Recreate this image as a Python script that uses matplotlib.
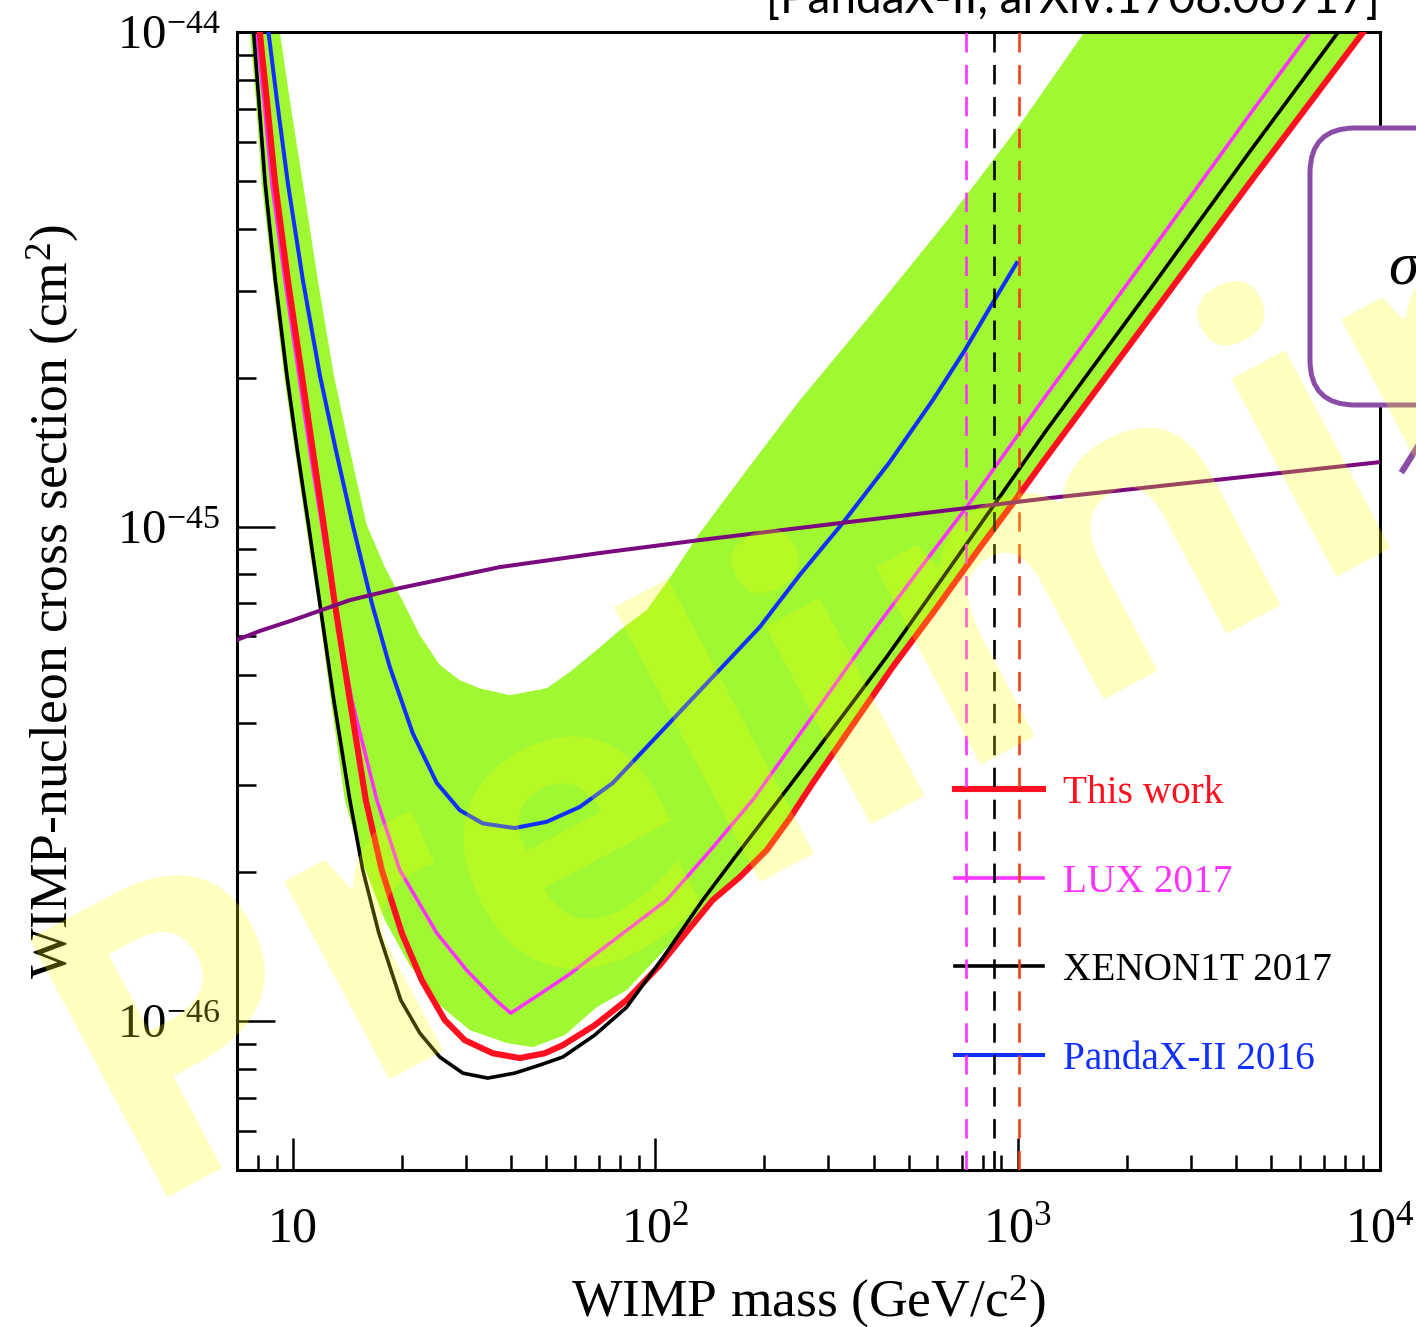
import matplotlib
matplotlib.use('Agg')
import matplotlib.pyplot as plt
from matplotlib.patches import FancyBboxPatch
from matplotlib.lines import Line2D
from matplotlib.ticker import FixedLocator, FixedFormatter, NullFormatter, LogLocator

plt.rcParams['font.family'] = ['Liberation Serif', 'DejaVu Serif']
plt.rcParams['mathtext.fontset'] = 'custom'
plt.rcParams['mathtext.rm'] = 'Liberation Serif'
plt.rcParams['mathtext.it'] = 'Liberation Serif:italic'
plt.rcParams['mathtext.bf'] = 'Liberation Serif:bold'
plt.rcParams['lines.scale_dashes'] = False

# ---------------- data ----------------
this_work_mass = [8.09, 8.46, 8.92, 9.67, 10.57, 11.33, 12.15, 13.03, 14.34, 15.87, 17.57, 19.95,
                  22.65, 26.22, 29.77, 35.57, 42.23, 49.49, 55.50, 68.00, 83.31, 102.8, 124.3,
                  143.9, 170.9, 202.9, 234.8, 271.8, 350.3, 451.7, 582.5, 785.2, 1012, 1201,
                  2312, 4364, 8948]
this_work_xsec = [1.0e-44, 7.29e-45, 4.95e-45, 3.15e-45, 2.025e-45, 1.428e-45, 1.007e-45,
                  7.00e-46, 4.46e-46, 2.80e-46, 2.02e-46, 1.507e-46, 1.21e-46, 1.005e-46,
                  9.15e-47, 8.61e-47, 8.42e-47, 8.61e-47, 8.94e-47, 9.81e-47, 1.103e-46,
                  1.297e-46, 1.542e-46, 1.757e-46, 1.955e-46, 2.217e-46, 2.57e-46, 3.03e-46,
                  3.97e-46, 5.20e-46, 6.68e-46, 9.05e-46, 1.163e-45, 1.382e-45, 2.64e-45,
                  4.95e-45, 9.95e-45]

lux_mass = [7.94, 8.30, 8.73, 9.49, 10.37, 11.12, 12.00, 12.95, 14.52, 17.02, 19.70, 24.92,
            30.15, 36.25, 39.87, 47.95, 58.02, 68.87, 84.92, 107.4, 141.2, 185.6, 266.6, 382.9,
            526.0, 722.8, 1171, 2312, 4364, 6391]
lux_xsec = [1.0e-44, 7.29e-45, 4.95e-45, 3.15e-45, 2.025e-45, 1.428e-45, 1.007e-45, 7.00e-46,
            4.46e-46, 2.80e-46, 2.02e-46, 1.507e-46, 1.267e-46, 1.103e-46, 1.038e-46, 1.134e-46,
            1.245e-46, 1.372e-46, 1.542e-46, 1.757e-46, 2.207e-46, 2.80e-46, 4.06e-46, 5.90e-46,
            8.05e-46, 1.095e-45, 1.80e-45, 3.57e-45, 6.80e-45, 9.95e-45]

xenon_mass = [7.78, 8.04, 8.37, 8.93, 9.61, 10.27, 11.03, 11.85, 12.95, 14.34, 15.57, 17.24,
              19.82, 22.37, 25.40, 29.40, 34.45, 40.91, 47.95, 55.50, 68.00, 83.31, 106.1,
              135.1, 163.5, 206.8, 261.5, 337.2, 434.8, 608.9, 852.3, 1201, 2312, 4364, 7632]
xenon_xsec = [1.0e-44, 7.29e-45, 4.95e-45, 3.15e-45, 2.025e-45, 1.428e-45, 1.007e-45, 7.00e-46,
              4.46e-46, 2.80e-46, 2.02e-46, 1.507e-46, 1.103e-46, 9.46e-47, 8.46e-47, 7.85e-47,
              7.67e-47, 7.85e-47, 8.15e-47, 8.46e-47, 9.37e-47, 1.067e-46, 1.36e-46, 1.757e-46,
              2.117e-46, 2.65e-46, 3.32e-46, 4.25e-46, 5.45e-46, 7.72e-46, 1.095e-45, 1.567e-45,
              3.01e-45, 5.72e-45, 9.95e-45]

pandax16_mass = [8.55, 9.02, 9.67, 10.64, 11.85, 13.12, 14.61, 16.49, 18.49, 21.39, 24.92, 28.84,
                 33.38, 40.91, 50.12, 61.82, 76.24, 102.8, 141.2, 194.0, 250.2, 328.7, 443.2,
                 582.5, 713.8, 852.3, 993.1]
pandax16_xsec = [1.0e-44, 7.29e-45, 4.95e-45, 3.15e-45, 2.025e-45, 1.428e-45, 1.007e-45,
                 7.00e-46, 5.20e-46, 3.82e-46, 3.03e-46, 2.67e-46, 2.51e-46, 2.457e-46, 2.53e-46,
                 2.71e-46, 3.03e-46, 3.82e-46, 4.89e-46, 6.26e-46, 7.98e-46, 1.016e-45, 1.35e-45,
                 1.80e-45, 2.27e-45, 2.83e-45, 3.41e-45]

band_upper_mass = [9.19, 9.79, 10.64, 11.70, 12.95, 14.34, 15.97, 17.91, 20.21, 22.37, 25.40,
                   28.84, 32.74, 39.63, 50.12, 58.02, 68.87, 79.69, 94.62, 110.9, 132.5, 182.1,
                   250.2, 402.9, 648.9, 1012, 1530]
band_upper_xsec = [1.0e-44, 7.29e-45, 4.95e-45, 3.15e-45, 2.025e-45, 1.428e-45, 1.007e-45,
                   8.28e-46, 7.00e-46, 6.03e-46, 5.25e-46, 4.89e-46, 4.71e-46, 4.56e-46, 4.71e-46,
                   5.08e-46, 5.63e-46, 6.17e-46, 6.78e-46, 7.98e-46, 9.70e-46, 1.325e-45,
                   1.80e-45, 2.74e-45, 4.22e-45, 6.48e-45, 1.0e-44]
band_lower_mass = [7.60, 7.89, 8.19, 8.79, 9.43, 10.11, 10.84, 11.70, 12.71, 13.89, 15.47, 17.91,
                   20.99, 25.40, 30.73, 38.87, 45.87, 56.21, 68.87, 83.31, 102.8, 143.9, 202.9,
                   271.8, 451.7, 582.5, 1201, 2312, 4364, 8948]
band_lower_xsec = [1.0e-44, 7.29e-45, 4.95e-45, 3.15e-45, 2.025e-45, 1.428e-45, 1.007e-45,
                   7.00e-46, 4.46e-46, 2.80e-46, 2.117e-46, 1.60e-46, 1.297e-46, 1.077e-46,
                   9.59e-47, 9.03e-47, 8.86e-47, 9.37e-47, 1.067e-46, 1.155e-46, 1.36e-46,
                   1.757e-46, 2.217e-46, 3.03e-46, 5.20e-46, 6.68e-46, 1.382e-45, 2.64e-45,
                   4.95e-45, 9.95e-45]

theory_mass = [7.0, 8.09, 10.0, 14.34, 19.7, 37.2, 70.2, 132.5, 322, 723, 1224, 10000]
theory_xsec = [5.90e-46, 6.15e-46, 6.47e-46, 7.10e-46, 7.51e-46, 8.28e-46, 8.84e-46, 9.39e-46,
               1.016e-45, 1.090e-45, 1.142e-45, 1.35e-45]

crossing_masses = [720, 860, 1010]
crossing_colors = ['#ff33ff', '#000000', '#f2401c']

legend_labels = ['This work', 'LUX 2017', 'XENON1T 2017', 'PandaX-II 2016']
x_tick_values = [10, 100, 1000, 10000]
x_tick_labels = ['10', '$10^2$', '$10^3$', '$10^4$']
y_tick_values = [1e-46, 1e-45, 1e-44]
y_tick_labels = ['$10^{-46}$', '$10^{-45}$', '$10^{-44}$']

# ---------------- figure ----------------
W, H = 1416, 1327
fig = plt.figure(figsize=(W / 100, H / 100), dpi=100)
ax = fig.add_axes([237 / W, 1 - 1170 / H, (1380 - 237) / W, (1170 - 32) / H])
ax.set_xscale('log')
ax.set_yscale('log')
ax.set_xlim(7.0, 1e4)
ax.set_ylim(5e-47, 1e-44)

ax.fill(band_upper_mass + band_lower_mass[::-1], band_upper_xsec + band_lower_xsec[::-1],
        color='#9ff832', lw=0, zorder=1)

l_mag, = ax.plot(lux_mass, lux_xsec, color='#ff33ff', lw=2.6, zorder=2.5)
l_red, = ax.plot(this_work_mass, this_work_xsec, color='#ff1020', lw=4.4, zorder=3,
                 solid_joinstyle='round')
l_blk, = ax.plot(xenon_mass, xenon_xsec, color='#000000', lw=2.6, zorder=4)
l_blu, = ax.plot(pandax16_mass, pandax16_xsec, color='#1030ff', lw=2.9, zorder=4)
ax.plot(theory_mass, theory_xsec, color='#7a0a7e', lw=2.9, zorder=5)

for m, c in zip(crossing_masses, crossing_colors):
    ax.axvline(m, color=c, lw=1.9, dashes=(14, 9), zorder=7)

leg = ax.legend([l_red, l_mag, l_blk, l_blu], legend_labels, loc='upper left',
                bbox_to_anchor=(0.628, 0.347), frameon=False, fontsize=28.3,
                handlelength=2.25, handletextpad=0.5, labelspacing=1.31,
                borderpad=0, borderaxespad=0, labelcolor='linecolor')
leg.set_zorder(6)

for s in ax.spines.values():
    s.set_linewidth(2.2)

ax.xaxis.set_major_locator(FixedLocator(x_tick_values))
ax.xaxis.set_major_formatter(FixedFormatter(x_tick_labels))
ax.yaxis.set_major_locator(FixedLocator(y_tick_values))
ax.yaxis.set_major_formatter(FixedFormatter(y_tick_labels))
ax.xaxis.set_minor_locator(LogLocator(base=10, subs=range(2, 10), numticks=20))
ax.yaxis.set_minor_locator(LogLocator(base=10, subs=range(2, 10), numticks=20))
ax.xaxis.set_minor_formatter(NullFormatter())
ax.yaxis.set_minor_formatter(NullFormatter())

ax.tick_params(axis='x', which='major', direction='in', length=23, width=1.8, labelsize=36, pad=26,
               top=False)
ax.tick_params(axis='x', which='minor', direction='in', length=11, width=1.8, top=False)
ax.tick_params(axis='y', which='major', direction='in', length=27, width=1.8, labelsize=35, pad=12,
               right=False)
ax.tick_params(axis='y', which='minor', direction='in', length=13.5, width=1.8, right=False)

ax.set_xlabel('WIMP mass (GeV/c$^2$)', fontsize=38.5, labelpad=15)
ax.set_ylabel('WIMP-nucleon cross section (cm$^2$)', fontsize=38.5, labelpad=26)

# header text (cut at the top)
fig.text(1380 / W, 1 - 13 / H, '[PandaX-II, arXiv:1708.06917]', ha='right', va='baseline',
         fontsize=33, family=['Lato', 'DejaVu Sans'], color='black')

# partial callout box on the right
box = FancyBboxPatch((13.10, (H - 405) / 100), 3.0, (405 - 128) / 100,
                     boxstyle='round,pad=0,rounding_size=0.45', transform=fig.dpi_scale_trans,
                     facecolor='white', edgecolor='#8b4ca8', lw=3.6, zorder=5)
fig.patches.append(box)
fig.text(1388 / W, 1 - 283 / H, r'$\sigma$', fontsize=44, ha='left', va='baseline', zorder=6)
fig.lines.append(Line2D([14.03, 14.2], [(H - 470) / 100, (H - 443) / 100],
                        transform=fig.dpi_scale_trans, color='#8b4ca8', lw=4.5, zorder=5))

# watermark
fig.text(130 / W, 1 - 1197 / H, 'Preliminary', rotation=28, rotation_mode='anchor',
         ha='left', va='baseline', fontsize=295, fontweight='bold',
         family=['Open Sans', 'DejaVu Sans'], color='#ffff00', alpha=0.25, zorder=20)

fig.savefig('out.png', dpi=100)
